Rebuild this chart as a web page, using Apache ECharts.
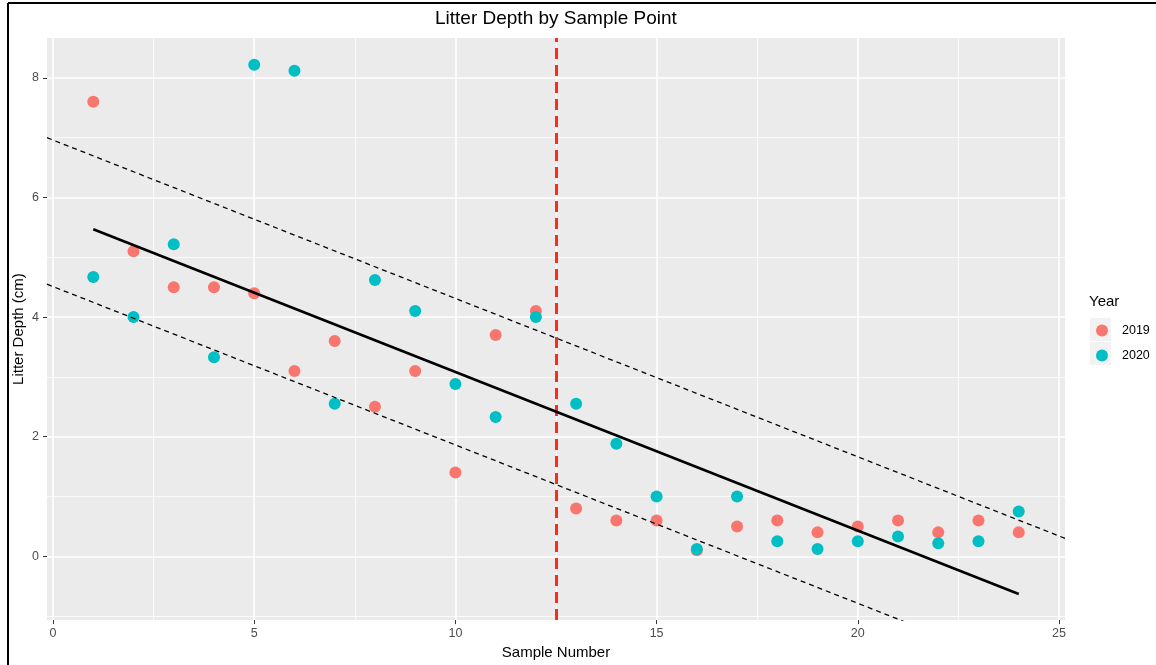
<!DOCTYPE html>
<html>
<head>
<meta charset="utf-8">
<script src="https://cdn.jsdelivr.net/npm/echarts@6/dist/echarts.min.js"></script>
<style>
html,body{margin:0;padding:0;background:#fff;}
#c{width:1156px;height:665px;}
</style>
</head>
<body>
<div id="c"></div>
<script>
// ---- data ----
const sampleNumbers = [1,2,3,4,5,6,7,8,9,10,11,12,13,14,15,16,17,18,19,20,21,22,23,24];
const depth2019 = [7.6,5.1,4.5,4.5,4.4,3.1,3.6,2.5,3.1,1.4,3.7,4.1,0.8,0.6,0.6,0.1,0.5,0.6,0.4,0.5,0.6,0.4,0.6,0.4];
const depth2020 = [4.67,4.0,5.22,3.33,8.22,8.12,2.55,4.62,4.1,2.88,2.33,4.0,2.55,1.88,1.0,0.12,1.0,0.25,0.12,0.25,0.33,0.22,0.25,0.75];
const fitLine = [[1,5.47],[24,-0.63]];
const upperBand = [[-0.15,7.0],[25.15,0.3]];
const lowerBand = [[-0.15,4.55],[25.15,-2.15]];
const breakPoint = 12.5;
const xMajorTicks = [0,5,10,15,20,25];
const xMinorTicks = [2.5,7.5,12.5,17.5,22.5];
const yMajorTicks = [0,2,4,6,8];
const yMinorTicks = [-1,1,3,5,7];
const years = ['2019','2020'];
const colors = ['#F8766D','#00BFC4'];

const FONT = 'Liberation Sans, Arial, Helvetica, sans-serif';
const chart = echarts.init(document.getElementById('c'), null, {renderer:'canvas'});

function pts(ys){ return sampleNumbers.map((x,i)=>[x, ys[i]]); }

const tickStyle = {show:true, length:4, inside:false, lineStyle:{color:'#333333', width:1}};
const labelStyle = {color:'#4D4D4D', fontSize:12.5, fontFamily:FONT};

chart.setOption({
  animation:false,
  backgroundColor:'#ffffff',
  title:{
    text:'Litter Depth by Sample Point',
    left:435, top:9, padding:0,
    textStyle:{fontSize:19, fontWeight:'normal', color:'#000', fontFamily:FONT}
  },
  grid:{left:47, right:91, top:38, bottom:43, show:true, backgroundColor:'#EBEBEB', borderWidth:0},
  legend:{
    orient:'vertical', left:1096, top:324, padding:0, itemWidth:12, itemHeight:12, itemGap:12,
    icon:'circle', data:years,
    textStyle:{color:'#000', fontSize:12.5, fontFamily:FONT, padding:[0,0,0,9]}
  },
  graphic:[
    {type:'line', shape:{x1:8,y1:3,x2:1156,y2:3}, style:{stroke:'#000', lineWidth:2}, silent:true},
    {type:'line', shape:{x1:8,y1:3,x2:8,y2:665}, style:{stroke:'#000', lineWidth:2}, silent:true},
    {type:'rect', shape:{x:1090,y:318,width:21,height:23}, style:{fill:'#F2F2F2'}, z:-1, silent:true},
    {type:'rect', shape:{x:1090,y:342,width:21,height:23}, style:{fill:'#F2F2F2'}, z:-1, silent:true},
    {type:'text', left:1089, top:294, style:{text:'Year', fontSize:15, fill:'#000', fontFamily:FONT}, silent:true}
  ],
  xAxis:[
    {type:'value', min:-0.15, max:25.15, position:'bottom',
     name:'Sample Number', nameLocation:'middle', nameGap:23,
     nameTextStyle:{fontSize:15, color:'#000', fontFamily:FONT},
     axisLine:{show:false, onZero:false},
     axisTick:Object.assign({customValues:xMajorTicks}, tickStyle),
     axisLabel:Object.assign({customValues:xMajorTicks, margin:7}, labelStyle),
     splitLine:{show:true, lineStyle:{color:'#ffffff', width:1.6}}},
    {type:'value', min:-0.15, max:25.15, position:'bottom',
     axisLine:{show:false, onZero:false},
     axisTick:{show:false, customValues:xMinorTicks},
     axisLabel:{show:false, customValues:xMinorTicks},
     splitLine:{show:true, lineStyle:{color:'#ffffff', width:0.8}}}
  ],
  yAxis:[
    {type:'value', min:-1.067, max:8.667, position:'left',
     name:'Litter Depth (cm)', nameLocation:'middle', nameGap:21, nameRotate:90,
     nameMoveOverlap:false,
     nameTextStyle:{fontSize:15, color:'#000', fontFamily:FONT},
     axisLine:{show:false, onZero:false},
     axisTick:Object.assign({customValues:yMajorTicks}, tickStyle),
     axisLabel:Object.assign({customValues:yMajorTicks, margin:8}, labelStyle),
     splitLine:{show:true, lineStyle:{color:'#ffffff', width:1.6}}},
    {type:'value', min:-1.067, max:8.667, position:'left',
     axisLine:{show:false, onZero:false},
     axisTick:{show:false, customValues:yMinorTicks},
     axisLabel:{show:false, customValues:yMinorTicks},
     splitLine:{show:true, lineStyle:{color:'#ffffff', width:0.8}}}
  ],
  series:[
    {name:years[0], type:'scatter', data:pts(depth2019), symbolSize:12,
     itemStyle:{color:colors[0], opacity:1}, z:2},
    {name:years[1], type:'scatter', data:pts(depth2020), symbolSize:12,
     itemStyle:{color:colors[1], opacity:1}, z:3},
    {name:'upper', type:'line', data:upperBand, symbol:'none', clip:true,
     lineStyle:{color:'#000', width:1.3, type:[5,4]}, z:4},
    {name:'lower', type:'line', data:lowerBand, symbol:'none', clip:true,
     lineStyle:{color:'#000', width:1.3, type:[5,4]}, z:4},
    {name:'fit', type:'line', data:fitLine, symbol:'none', clip:true,
     lineStyle:{color:'#000', width:2.6}, z:5,
     markLine:{symbol:'none', silent:true, label:{show:false},
       lineStyle:{color:'#FF2A1A', width:3, type:[11,6]},
       data:[{xAxis:breakPoint}]}}
  ]
});
</script>
</body>
</html>
